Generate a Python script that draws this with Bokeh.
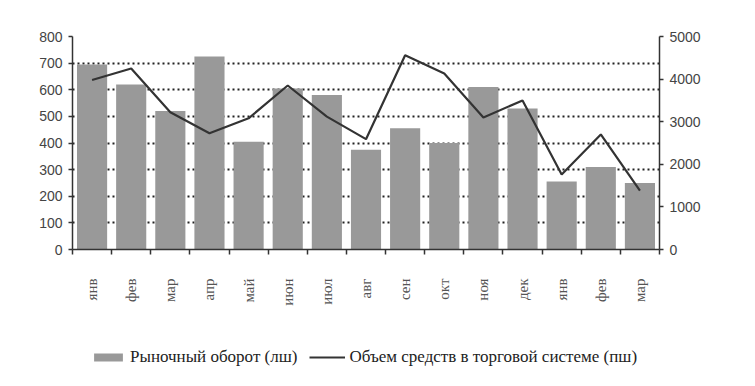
import numpy as np
from bokeh.plotting import figure
from bokeh.layouts import column
from bokeh.models import (LinearAxis, Range1d, FixedTicker, Legend, LegendItem,
                          ColumnDataSource)
from bokeh.embed import file_html
from bokeh.resources import INLINE

months = ["янв", "фев", "мар", "апр", "май", "июн", "июл", "авг",
          "сен", "окт", "ноя", "дек", "янв", "фев", "мар"]
turnover = [695, 620, 520, 725, 405, 605, 580, 375, 455, 400, 610, 530, 255, 310, 250]
funds = [3980, 4250, 3220, 2730, 3080, 3850, 3120, 2590, 4560, 4130, 3100, 3500, 1760, 2700, 1380]
left_ticks = list(range(0, 801, 100))
right_ticks = list(range(0, 5001, 1000))
bar_label = "Рыночный оборот (лш)"
line_label = "Объем средств в торговой системе (пш)"

BAR_COLOR = "#999999"
LINE_COLOR = "#333333"

x = np.arange(len(months)) + 0.5
src = ColumnDataSource(dict(x=x, turnover=turnover, funds=funds))

p = figure(width=740, height=320, output_backend="svg", toolbar_location=None,
           x_range=Range1d(0, len(months)), y_range=Range1d(0, 800),
           min_border_left=72, min_border_right=81, min_border_top=36,
           min_border_bottom=71)
p.extra_y_ranges = {"right": Range1d(0, 5000)}
p.outline_line_color = None
p.background_fill_color = "white"

bars = p.vbar(x="x", top="turnover", width=0.77, source=src,
              fill_color=BAR_COLOR, line_color=None)
line = p.line(x="x", y="funds", source=src, y_range_name="right",
              line_color=LINE_COLOR, line_width=2.2)

# x axis
xa = p.xaxis[0]
xa.ticker = FixedTicker(ticks=list(x), minor_ticks=list(range(len(months) + 1)))
xa.major_label_overrides = {float(v): m for v, m in zip(x, months)}
xa.major_label_orientation = np.pi / 2
xa.major_tick_out = 0
xa.major_tick_in = 0
xa.minor_tick_out = 5
xa.minor_tick_in = 0
xa.major_label_standoff = 24
xa.major_label_text_font = "Liberation Serif"
xa.major_label_text_font_size = "15px"
xa.major_label_text_color = "#555555"
xa.axis_line_color = "#333333"
xa.axis_line_width = 1.5
xa.minor_tick_line_color = "#333333"
xa.minor_tick_line_width = 1.5

# left axis
ya = p.yaxis[0]
ya.ticker = FixedTicker(ticks=left_ticks, minor_ticks=[])
ya.major_tick_out = 4
ya.major_tick_in = 0
ya.major_label_standoff = 6
ya.major_label_text_font = "Liberation Sans"
ya.major_label_text_font_size = "14px"
ya.major_label_text_color = "#444444"
ya.axis_line_color = "#333333"
ya.axis_line_width = 1.5
ya.major_tick_line_color = "#333333"
ya.major_tick_line_width = 1.5

# right axis
ra = LinearAxis(y_range_name="right", ticker=FixedTicker(ticks=right_ticks, minor_ticks=[]))
ra.major_tick_out = 4
ra.major_tick_in = 0
ra.major_label_standoff = 6
ra.major_label_text_font = "Liberation Sans"
ra.major_label_text_font_size = "14px"
ra.major_label_text_color = "#444444"
ra.axis_line_color = "#333333"
ra.axis_line_width = 1.5
ra.major_tick_line_color = "#333333"
ra.major_tick_line_width = 1.5
p.add_layout(ra, "right")

p.xgrid.visible = False
p.ygrid.ticker = FixedTicker(ticks=left_ticks[1:])
p.ygrid.grid_line_color = "#222222"
p.ygrid.grid_line_dash = "2 3"
p.ygrid.grid_line_width = 2

# legend strip below the chart (hidden renderers, legend shows their glyphs)
lg = figure(width=740, height=50, output_backend="svg", toolbar_location=None,
            x_range=Range1d(0, 1), y_range=Range1d(0, 1),
            x_axis_location=None, y_axis_location=None, min_border=0)
lg.outline_line_color = None
lg.grid.visible = False
lb = lg.vbar(x="x", top="turnover", width=0.77, source=src,
             fill_color=BAR_COLOR, line_color=None, visible=False)
ll = lg.line(x="x", y="funds", source=src, line_color=LINE_COLOR, line_width=2.2,
             visible=False)
legend = Legend(items=[LegendItem(label=bar_label, renderers=[lb]),
                       LegendItem(label=line_label, renderers=[ll])],
                orientation="horizontal", location=(18, 3),
                glyph_width=36, glyph_height=10, label_standoff=4, spacing=12,
                padding=0, margin=0, border_line_color=None,
                background_fill_alpha=0, inactive_fill_alpha=0,
                label_text_font="Liberation Serif", label_text_font_size="17px",
                label_text_color="#222222", label_height=20)
lg.add_layout(legend, "center")

open("out.html", "w").write(file_html(column(p, lg, spacing=0), INLINE))
